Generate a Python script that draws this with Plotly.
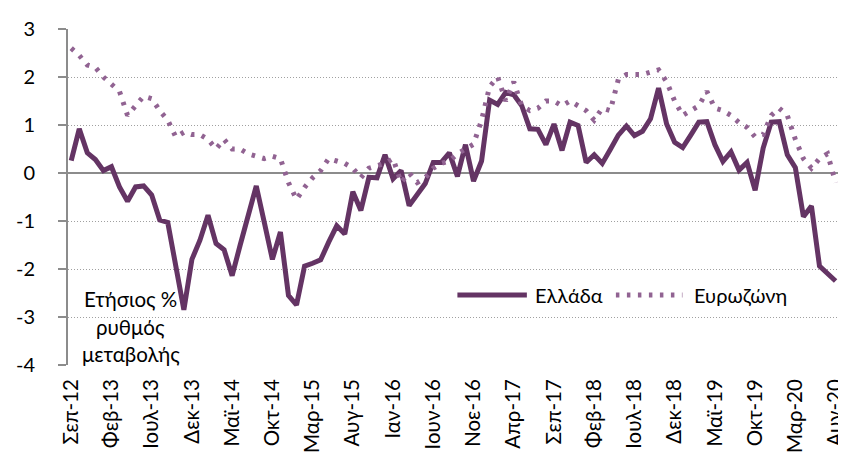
import plotly.graph_objects as go

# ---- data ----
tick_labels = ["Σεπ-12", "Φεβ-13", "Ιουλ-13", "Δεκ-13", "Μαϊ-14", "Οκτ-14", "Μαρ-15",
               "Αυγ-15", "Ιαν-16", "Ιουν-16", "Νοε-16", "Απρ-17", "Σεπ-17", "Φεβ-18",
               "Ιουλ-18", "Δεκ-18", "Μαϊ-19", "Οκτ-19", "Μαρ-20", "Αυγ-20"]

greece = [0.26, 0.92, 0.42, 0.28, 0.05, 0.13, -0.29, -0.59, -0.29, -0.27,
          -0.46, -0.98, -1.03, -1.9, -2.85, -1.8, -1.4, -0.88, -1.47, -1.6,
          -2.14, -1.5, -0.9, -0.27, -1.03, -1.8, -1.23, -2.55, -2.75, -1.94,
          -1.88, -1.81, -1.44, -1.1, -1.27, -0.39, -0.78, -0.09, -0.1, 0.38,
          -0.12, 0.05, -0.68, -0.46, -0.22, 0.22, 0.22, 0.42, -0.07, 0.59,
          -0.17, 0.25, 1.52, 1.43, 1.68, 1.63, 1.4, 0.92, 0.91, 0.59,
          1.02, 0.47, 1.06, 0.99, 0.22, 0.38, 0.2, 0.49, 0.79, 0.98,
          0.78, 0.87, 1.13, 1.77, 1.02, 0.64, 0.53, 0.79, 1.06, 1.07,
          0.59, 0.24, 0.44, 0.06, 0.22, -0.36, 0.52, 1.06, 1.07, 0.38,
          0.11, -0.91, -0.69, -1.94, -2.11, -2.25]

eurozone = [2.6, 2.45, 2.25, 2.2, 2.0, 1.85, 1.7, 1.2, 1.4, 1.6,
            1.55, 1.3, 1.1, 0.75, 0.85, 0.8, 0.8, 0.7, 0.5, 0.7,
            0.5, 0.5, 0.4, 0.35, 0.3, 0.35, 0.3, -0.2, -0.55, -0.3,
            -0.1, 0.05, 0.3, 0.25, 0.2, 0.1, -0.1, 0.1, 0.15, 0.2,
            0.3, -0.2, 0.0, -0.2, -0.1, 0.1, 0.2, 0.25, 0.4, 0.5,
            0.6, 1.1, 1.8, 2.0, 1.5, 1.9, 1.4, 1.3, 1.35, 1.5,
            1.5, 1.4, 1.5, 1.4, 1.3, 1.1, 1.35, 1.3, 1.95, 2.05,
            2.05, 2.05, 2.1, 2.15, 1.9, 1.5, 1.2, 1.3, 1.4, 1.7,
            1.35, 1.3, 1.2, 1.05, 0.95, 0.75, 0.8, 1.2, 1.35, 1.2,
            0.7, 0.3, 0.1, 0.3, 0.4, -0.2]

y_tick_values = [-4, -3, -2, -1, 0, 1, 2, 3]
y_tick_labels = ["-4", "-3", "-2", "-1", "0", "1", "2", "3"]

series_names = ["Ελλάδα", "Ευρωζώνη"]
axis_title_lines = ["Ετήσιος %", "ρυθμός", "μεταβολής"]

# ---- styling ----
GR_COLOR = "#643464"
EZ_COLOR = "#916392"
AXIS_GRAY = "#8c8c8c"
FONT = "Lato"
EZ_DASH = "3.5px,7.5px"

PLOT_LEFT, PLOT_RIGHT, PLOT_TOP, PLOT_BOTTOM = 51, 838, 17, 363

months = list(range(len(greece)))
tick_positions = list(range(0, len(greece), 5))

fig = go.Figure()
fig.add_trace(go.Scatter(x=months, y=greece, mode="lines", name=series_names[0],
                         line=dict(color=GR_COLOR, width=5), showlegend=False))
fig.add_trace(go.Scatter(x=months, y=eurozone, mode="lines", name=series_names[1],
                         line=dict(color=EZ_COLOR, width=5, dash=EZ_DASH),
                         showlegend=False))

fig.update_layout(
    width=846, height=453,
    margin=dict(l=PLOT_LEFT, r=846 - PLOT_RIGHT, t=PLOT_TOP, b=453 - PLOT_BOTTOM),
    paper_bgcolor="white", plot_bgcolor="white",
    font=dict(family=FONT, color="black", size=20),
)

fig.update_xaxes(
    range=[-0.4, 95.3], tickmode="array", tickvals=tick_positions, ticktext=tick_labels,
    tickangle=-90, showgrid=False, zeroline=False, showline=False,
    ticks="outside", ticklen=5, tickcolor="rgba(0,0,0,0)",
    ticklabeloverflow="allow",
    tickfont=dict(family=FONT, size=20.5, color="black"),
)
fig.update_yaxes(
    range=[-4, 3], tickmode="array", tickvals=y_tick_values, ticktext=y_tick_labels,
    showgrid=True, gridcolor="#a0a0a0", griddash="1px,2px", gridwidth=1,
    zeroline=True, zerolinecolor=AXIS_GRAY, zerolinewidth=2,
    showline=True, linecolor=AXIS_GRAY, linewidth=2,
    ticks="outside", ticklen=8, tickcolor=AXIS_GRAY, tickwidth=1.5,
    ticklabelstandoff=19,
    tickfont=dict(family=FONT, size=20, color="black"),
)

# ---- manual legend (paper coordinates) ----
def px_x(p):
    return (p - PLOT_LEFT) / float(PLOT_RIGHT - PLOT_LEFT)

def px_y(p):
    return (PLOT_BOTTOM - p) / float(PLOT_BOTTOM - PLOT_TOP)

leg_y = px_y(291)
fig.add_shape(type="line", xref="paper", yref="paper",
              x0=px_x(449), x1=px_x(520), y0=leg_y, y1=leg_y,
              line=dict(color=GR_COLOR, width=5))
fig.add_shape(type="line", xref="paper", yref="paper",
              x0=px_x(611), x1=px_x(679), y0=leg_y, y1=leg_y,
              line=dict(color=EZ_COLOR, width=5, dash=EZ_DASH))
fig.add_annotation(xref="paper", yref="paper", x=px_x(526), y=leg_y,
                   text=series_names[0], showarrow=False, xanchor="left", yanchor="middle",
                   font=dict(family=FONT, size=20, color="black"))
fig.add_annotation(xref="paper", yref="paper", x=px_x(689), y=leg_y,
                   text=series_names[1], showarrow=False, xanchor="left", yanchor="middle",
                   font=dict(family=FONT, size=20, color="black"))

for line_text, py in zip(axis_title_lines, [295, 324, 352]):
    fig.add_annotation(xref="paper", yref="paper", x=px_x(115), y=px_y(py),
                       text=line_text, showarrow=False, xanchor="center", yanchor="middle",
                       font=dict(family=FONT, size=20.5, color="black"))

fig.write_html("out.html")
